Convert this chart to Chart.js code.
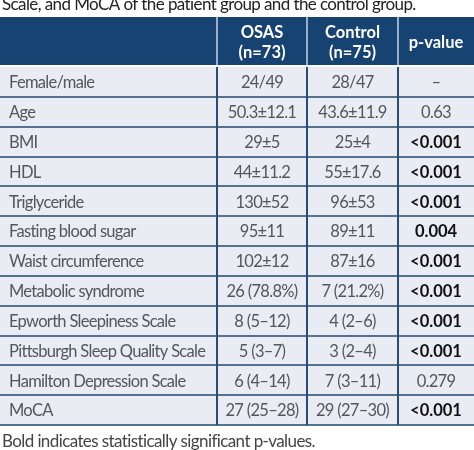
<!DOCTYPE html>
<html>
<head>
<meta charset="utf-8">
<script src="https://cdn.jsdelivr.net/npm/chart.js@4.4.1/dist/chart.umd.min.js"></script>
<style>
  html, body { margin: 0; padding: 0; background: #fff; }
  #wrap { width: 474px; height: 450px; }
</style>
</head>
<body>
<div id="wrap"><canvas id="tableChart" width="474" height="450"></canvas></div>
<script>
var captionText = "Scale, and MoCA of the patient group and the control group.";
var footnoteText = "Bold indicates statistically significant p-values.";
var columnHeaders = [["OSAS", "(n=73)"], ["Control", "(n=75)"], ["p-value"]];
var rowLabels = ["Female/male", "Age", "BMI", "HDL", "Triglyceride", "Fasting blood sugar",
    "Waist circumference", "Metabolic syndrome", "Epworth Sleepiness Scale",
    "Pittsburgh Sleep Quality Scale", "Hamilton Depression Scale", "MoCA"];
var osasValues = ["24/49", "50.3\u00b112.1", "29\u00b15", "44\u00b111.2", "130\u00b152", "95\u00b111",
    "102\u00b112", "26 (78.8%)", "8 (5\u201312)", "5 (3\u20137)", "6 (4\u201314)", "27 (25\u201328)"];
var controlValues = ["28/47", "43.6\u00b111.9", "25\u00b14", "55\u00b117.6", "96\u00b153", "89\u00b111",
    "87\u00b116", "7 (21.2%)", "4 (2\u20136)", "3 (2\u20134)", "7 (3\u201311)", "29 (27\u201330)"];
var pValues = ["\u2013", "0.63", "<0.001", "<0.001", "<0.001", "0.004",
    "<0.001", "<0.001", "<0.001", "<0.001", "0.279", "<0.001"];
var pSignificant = [false, false, true, true, true, true, true, true, true, true, false, true];

// column edges in canvas px (layout only)
var colEdges = [0, 217, 307, 398, 474];
var headerTop = 17;
var headerBottom = 65;

var tablePlugin = {
    id: 'tableCells',
    beforeDraw: function (chart) {
        var ctx = chart.ctx;
        var area = chart.chartArea;
        var xs = chart.scales.x;
        ctx.save();
        ctx.fillStyle = '#ffffff';
        ctx.fillRect(0, 0, chart.width, chart.height);
        // body background
        ctx.fillStyle = '#e9ecf2';
        ctx.fillRect(area.left, area.top, area.right - area.left, area.bottom - area.top);
        // header band
        ctx.fillStyle = '#174373';
        ctx.fillRect(0, headerTop, chart.width, headerBottom - headerTop);
        ctx.strokeStyle = '#c9d5e4';
        ctx.lineWidth = 1.5;
        for (var i = 1; i < colEdges.length - 1; i++) {
            var px = xs.getPixelForValue(colEdges[i]);
            ctx.beginPath();
            ctx.moveTo(px, headerTop);
            ctx.lineTo(px, headerBottom);
            ctx.stroke();
        }
        ctx.restore();
    },
    afterDraw: function (chart) {
        var ctx = chart.ctx;
        var xs = chart.scales.x;
        var ys = chart.scales.y;
        ctx.save();
        ctx.textBaseline = 'middle';

        // caption (cut at top)
        ctx.fillStyle = '#222222';
        ctx.font = '17px Lato';
        ctx.letterSpacing = '-0.6px';
        ctx.textAlign = 'left';
        ctx.fillText(captionText, 2, 5);

        // header text
        ctx.fillStyle = '#ffffff';
        ctx.font = 'bold 16.5px Lato';
        ctx.letterSpacing = '0px';
        ctx.textAlign = 'center';
        for (var c = 0; c < columnHeaders.length; c++) {
            var cx = xs.getPixelForValue((colEdges[c + 1] + colEdges[c + 2]) / 2);
            var lines = columnHeaders[c];
            var mid = (headerTop + headerBottom) / 2 + 2;
            for (var l = 0; l < lines.length; l++) {
                var ly = mid + (l - (lines.length - 1) / 2) * 20;
                ctx.fillText(lines[l], cx, ly);
            }
        }

        // body cells
        var c1 = xs.getPixelForValue((colEdges[1] + colEdges[2]) / 2);
        var c2 = xs.getPixelForValue((colEdges[2] + colEdges[3]) / 2);
        var c3 = xs.getPixelForValue((colEdges[3] + colEdges[4]) / 2);
        for (var r = 0; r < rowLabels.length; r++) {
            var y = ys.getPixelForValue(r) + 1;
            ctx.fillStyle = '#52575e';
            ctx.font = '16.5px Lato';
            ctx.letterSpacing = '-0.7px';
            ctx.textAlign = 'left';
            ctx.fillText(rowLabels[r], xs.getPixelForValue(colEdges[0]) + 9, y);
            ctx.textAlign = 'center';
            ctx.fillText(osasValues[r], c1, y);
            ctx.fillText(controlValues[r], c2, y);
            if (pSignificant[r]) {
                ctx.fillStyle = '#111111';
                ctx.font = 'bold 16.5px Lato';
                ctx.letterSpacing = '0px';
            }
            ctx.fillText(pValues[r], c3, y);
        }

        // footnote
        ctx.fillStyle = '#444444';
        ctx.font = '17px Lato';
        ctx.letterSpacing = '-0.6px';
        ctx.textAlign = 'left';
        ctx.fillText(footnoteText, 2, 442);
        ctx.restore();
    }
};

new Chart("tableChart", {
    type: "bar",
    data: {
        labels: rowLabels,
        datasets: [{
            data: [],
            backgroundColor: "rgba(0,0,0,0)"
        }]
    },
    options: {
        responsive: false,
        animation: false,
        indexAxis: 'y',
        layout: {
            padding: { top: 67, bottom: 25, left: 0, right: 0 }
        },
        plugins: {
            legend: { display: false },
            tooltip: { enabled: false }
        },
        scales: {
            y: {
                type: 'category',
                offset: true,
                ticks: { display: false },
                border: { display: false },
                grid: {
                    offset: true,
                    drawTicks: false,
                    lineWidth: 2,
                    color: function (ctx) {
                        return ctx.index === 0 ? 'rgba(0,0,0,0)' : '#56718f';
                    }
                },
                afterFit: function (scale) { scale.width = 0; }
            },
            x: {
                type: 'linear',
                min: 0,
                max: 474,
                ticks: { display: false },
                border: { display: false },
                grid: {
                    drawTicks: false,
                    lineWidth: 2,
                    color: '#2a4d75'
                },
                afterBuildTicks: function (scale) {
                    scale.ticks = colEdges.slice(1, -1).map(function (v) { return { value: v }; });
                },
                afterFit: function (scale) { scale.height = 0; }
            }
        }
    },
    plugins: [tablePlugin]
});
</script>
</body>
</html>
